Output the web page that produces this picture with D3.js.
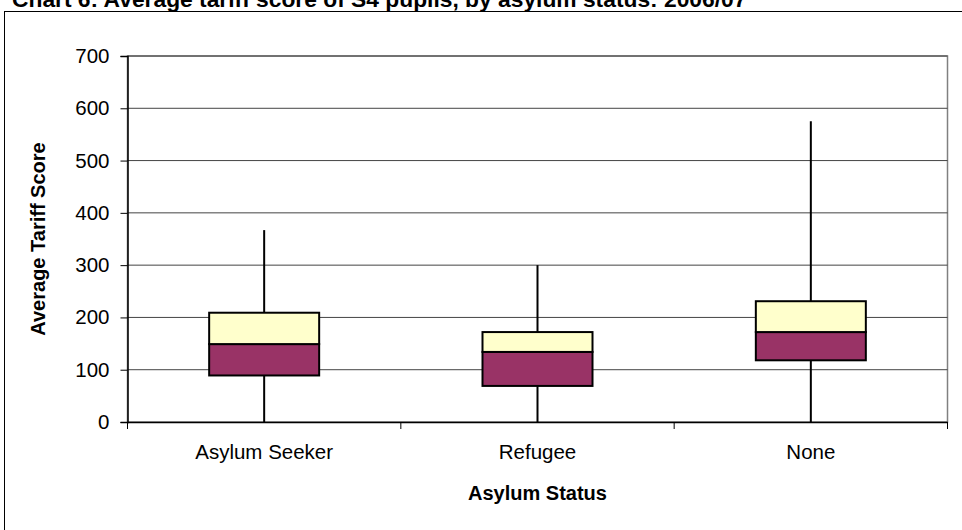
<!DOCTYPE html>
<html><head><meta charset="utf-8">
<script src="https://cdn.jsdelivr.net/npm/d3@7"></script>
<style>
body{margin:0;background:#fff;}
svg{display:block;font-family:Arial,"Liberation Sans",sans-serif;}
</style></head>
<body>
<svg id="c" width="962" height="530"></svg>
<script>
const title = "Chart 6: Average tariff score of S4 pupils, by asylum status: 2006/07";
const categories = ["Asylum Seeker", "Refugee", "None"];
const minVals    = [0, 0, 0];
const q1Vals     = [89, 69, 118];
const medianVals = [149, 134, 172];
const q3Vals     = [209, 172, 231];
const maxVals    = [367, 300, 575];
const yTicks     = [0, 100, 200, 300, 400, 500, 600, 700];
const xTitle = "Asylum Status";
const yTitle = "Average Tariff Score";

const svg = d3.select("#c");
const L = 127.5, R = 947.5, T = 56, B = 422;
const FONT = "Arial,'Liberation Sans',sans-serif";

// outer frame
svg.append("rect").attr("x",4.5).attr("y",11.5).attr("width",970).attr("height",540)
  .attr("fill","none").attr("stroke","#000").attr("stroke-width",1);

// title
svg.append("text").attr("x",12).attr("y",7).attr("font-weight","bold")
  .attr("font-size",22.8).attr("fill","#000").text(title);

const x = d3.scaleBand().domain(categories).range([L,R]).padding(0);
const y = d3.scaleLinear().domain([0,700]).range([B,T]);

// plot border (gray top/right)
svg.append("rect").attr("x",L).attr("y",T).attr("width",R-L).attr("height",B-T)
  .attr("fill","none").attr("stroke","#808080").attr("stroke-width",1.5);

// gridlines
svg.append("g").selectAll("line").data(yTicks.filter(d=>d>0)).join("line")
  .attr("x1",L).attr("x2",R).attr("y1",d=>y(d)).attr("y2",d=>y(d))
  .attr("stroke","#444").attr("stroke-width",1);

// y axis
const ya = svg.append("g").attr("transform",`translate(${L},0)`)
  .call(d3.axisLeft(y).tickValues(yTicks).tickSize(7).tickPadding(11).tickFormat(d3.format("d")));
ya.select(".domain").attr("stroke","#000").attr("stroke-width",1.5);
ya.selectAll(".tick line").attr("stroke","#000");
ya.selectAll("text").attr("font-size",20.5).attr("fill","#000").attr("font-family",FONT);

// x axis
const xa = svg.append("g").attr("transform",`translate(0,${B})`)
  .call(d3.axisBottom(x).tickSize(0).tickPadding(22));
xa.select(".domain").attr("stroke","#000").attr("stroke-width",1.5);
xa.selectAll("text").attr("font-size",20.5).attr("fill","#000").attr("font-family",FONT);
// category separator ticks
const sep = categories.map(c=>x(c)).concat([x(categories[categories.length-1])+x.bandwidth()]);
svg.append("g").selectAll("line").data(sep).join("line")
  .attr("x1",d=>d).attr("x2",d=>d).attr("y1",B).attr("y2",B+7)
  .attr("stroke","#000").attr("stroke-width",1);

// boxes
const boxW = 110;
const g = svg.append("g");
categories.forEach((c,i)=>{
  const cx = x(c)+x.bandwidth()/2;
  g.append("line").attr("x1",cx).attr("x2",cx).attr("y1",y(minVals[i])).attr("y2",y(maxVals[i]))
    .attr("stroke","#000").attr("stroke-width",2);
  g.append("rect").attr("x",cx-boxW/2).attr("y",y(medianVals[i])).attr("width",boxW)
    .attr("height",y(q1Vals[i])-y(medianVals[i])).attr("fill","#993366").attr("stroke","#000").attr("stroke-width",2);
  g.append("rect").attr("x",cx-boxW/2).attr("y",y(q3Vals[i])).attr("width",boxW)
    .attr("height",y(medianVals[i])-y(q3Vals[i])).attr("fill","#FFFFCC").attr("stroke","#000").attr("stroke-width",2);
});

// axis titles
svg.append("text").attr("x",(L+R)/2).attr("y",500).attr("text-anchor","middle")
  .attr("font-weight","bold").attr("font-size",20).attr("fill","#000").text(xTitle);
svg.append("text").attr("transform",`translate(45,${(T+B)/2}) rotate(-90)`).attr("text-anchor","middle")
  .attr("font-weight","bold").attr("font-size",20).attr("fill","#000").text(yTitle);
</script>
</body></html>
